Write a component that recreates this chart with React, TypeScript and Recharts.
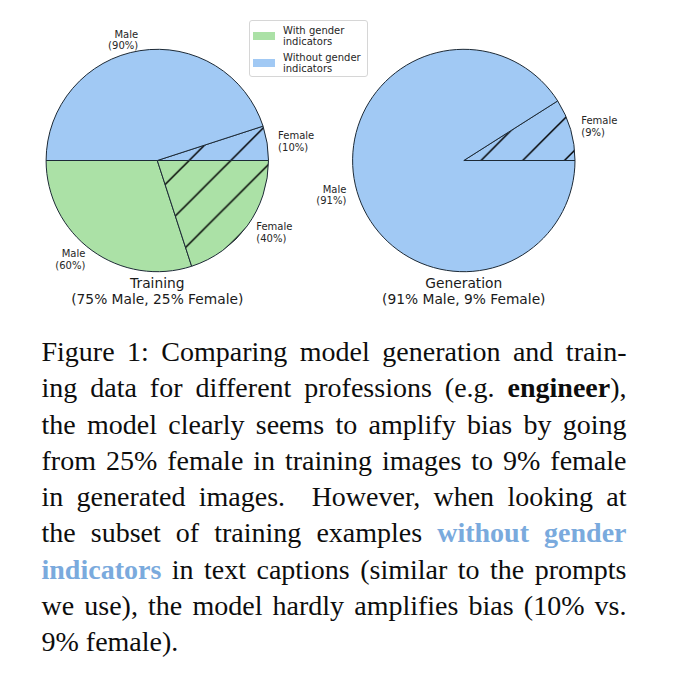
import React from "react";
import { PieChart, Pie, Cell } from "recharts";

// Training images split by caption type; within each group, % female / male
const trainingGroups = ["Without gender indicators", "With gender indicators"];
const trainingGroupShares = [50, 50];
const trainingFemalePct = [10, 40];
const trainingMalePct = [90, 60];

// Generated images
const generationGenders = ["Female", "Male"];
const generationPct = [9, 91];

const chartTitles = ["Training", "Generation"];
const chartSubtitles = ["(75% Male, 25% Female)", "(91% Male, 9% Female)"];

const BLUE = "#a1c9f4";
const GREEN = "#abe1a6";
const EDGE = "#1d2a36";
const R = 111.2;
const CY = 160.5;
const CX_TRAIN = 157.3;
const CX_GEN = 463.8;

const groupColor = (g: string) => (g.startsWith("Without") ? BLUE : GREEN);

// counterclockwise from 3 o'clock: without/female, without/male, with/male, with/female
const trainingData = [
  { group: trainingGroups[0], gender: "Female", pct: trainingFemalePct[0], value: (trainingGroupShares[0] * trainingFemalePct[0]) / 100 },
  { group: trainingGroups[0], gender: "Male", pct: trainingMalePct[0], value: (trainingGroupShares[0] * trainingMalePct[0]) / 100 },
  { group: trainingGroups[1], gender: "Male", pct: trainingMalePct[1], value: (trainingGroupShares[1] * trainingMalePct[1]) / 100 },
  { group: trainingGroups[1], gender: "Female", pct: trainingFemalePct[1], value: (trainingGroupShares[1] * trainingFemalePct[1]) / 100 },
];

const generationData = generationGenders.map((g, i) => ({
  group: trainingGroups[0],
  gender: g,
  pct: generationPct[i],
  value: generationPct[i],
}));

const RAD = Math.PI / 180;

const makeLabel = (data: typeof trainingData) => (props: any) => {
  const { cx, cy, midAngle, outerRadius, index } = props;
  const d = data[index];
  const r = outerRadius * 1.1;
  const x = cx + r * Math.cos(midAngle * RAD);
  const y = cy - r * Math.sin(midAngle * RAD);
  const anchor = x > cx ? "start" : "end";
  return (
    <text
      x={x}
      y={y}
      textAnchor={anchor}
      fontSize={10}
      fontFamily="DejaVu Sans"
      fill="#262626"
    >
      <tspan x={x} y={y - 5.6} dominantBaseline="central">
        {d.gender}
      </tspan>
      <tspan x={x} y={y + 6.1} dominantBaseline="central">
        ({d.pct}%)
      </tspan>
    </text>
  );
};

const fillFor = (d: { group: string; gender: string }) => {
  const base = groupColor(d.group) === BLUE ? "blue" : "green";
  return d.gender === "Female" ? `url(#hatch-${base})` : groupColor(d.group);
};

const HATCH = 41.7;

function HatchPattern({ id, color }: { id: string; color: string }) {
  return (
    <pattern
      id={id}
      patternUnits="userSpaceOnUse"
      width={HATCH}
      height={HATCH}
      patternTransform="translate(16,0)"
    >
      <rect width={HATCH} height={HATCH} fill={color} />
      <line x1={0} y1={HATCH} x2={HATCH} y2={0} stroke="#000" strokeWidth={1.5} />
      <line x1={-2} y1={2} x2={2} y2={-2} stroke="#000" strokeWidth={1.5} />
      <line x1={HATCH - 2} y1={HATCH + 2} x2={HATCH + 2} y2={HATCH - 2} stroke="#000" strokeWidth={1.5} />
    </pattern>
  );
}

const legendItems = [
  { label: ["With gender", "indicators"], color: GREEN },
  { label: ["Without gender", "indicators"], color: BLUE },
];

const captionStyle: React.CSSProperties = {
  position: "absolute",
  left: 41.5,
  top: 334,
  width: 585,
  fontFamily: "'Liberation Serif', serif",
  fontSize: 28,
  lineHeight: "36.3px",
  color: "#0d0d0d",
};

const justified: React.CSSProperties = {
  textAlign: "justify",
  textAlignLast: "justify",
  whiteSpace: "nowrap",
};

const blueBold: React.CSSProperties = { color: "#7aaadd", fontWeight: "bold" };

export default function App() {
  return (
    <div style={{ position: "absolute", left: 0, top: 0, width: 675, height: 680, background: "#fff" }}>
      <PieChart width={675} height={320} margin={{ top: 0, right: 0, bottom: 0, left: 0 }}>
        <defs>
          <HatchPattern id="hatch-blue" color={BLUE} />
          <HatchPattern id="hatch-green" color={GREEN} />
        </defs>
        <Pie
          data={trainingData}
          dataKey="value"
          cx={CX_TRAIN}
          cy={CY}
          outerRadius={R}
          startAngle={0}
          endAngle={360}
          label={makeLabel(trainingData)}
          labelLine={false}
          isAnimationActive={false}
        >
          {trainingData.map((d, i) => (
            <Cell key={i} fill={fillFor(d)} stroke={EDGE} strokeWidth={1} />
          ))}
        </Pie>
        <Pie
          data={generationData}
          dataKey="value"
          cx={CX_GEN}
          cy={CY}
          outerRadius={R}
          startAngle={0}
          endAngle={360}
          label={makeLabel(generationData)}
          labelLine={false}
          isAnimationActive={false}
        >
          {generationData.map((d, i) => (
            <Cell key={i} fill={fillFor(d)} stroke={EDGE} strokeWidth={1} />
          ))}
        </Pie>
      </PieChart>

      {[CX_TRAIN, CX_GEN].map((cx, i) => (
        <div
          key={i}
          style={{
            position: "absolute",
            left: cx - 125,
            top: 275.2,
            width: 250,
            textAlign: "center",
            fontFamily: "'DejaVu Sans', sans-serif",
            fontSize: 13.8,
            lineHeight: "16px",
            color: "#1a1a1a",
          }}
        >
          <div>{chartTitles[i]}</div>
          <div>{chartSubtitles[i]}</div>
        </div>
      ))}

      <div
        style={{
          position: "absolute",
          left: 249,
          top: 20,
          width: 119,
          height: 57,
          boxSizing: "border-box",
          border: "1px solid #d6d6d6",
          borderRadius: 3,
          background: "#fff",
          fontFamily: "'DejaVu Sans', sans-serif",
          fontSize: 10,
          color: "#262626",
        }}
      >
        {legendItems.map((it, i) => (
          <React.Fragment key={i}>
            <div
              style={{
                position: "absolute",
                left: 3,
                top: i === 0 ? 11 : 38,
                width: 22,
                height: 8,
                background: it.color,
              }}
            />
            <div
              style={{
                position: "absolute",
                left: 33,
                top: i === 0 ? 3.5 : 30.5,
                lineHeight: "11.5px",
                whiteSpace: "nowrap",
              }}
            >
              <div>{it.label[0]}</div>
              <div>{it.label[1]}</div>
            </div>
          </React.Fragment>
        ))}
      </div>

      <div style={captionStyle}>
        <div style={justified}>Figure 1: Comparing model generation and train-</div>
        <div style={justified}>
          ing data for different professions (e.g. <b>engineer</b>),
        </div>
        <div style={justified}>the model clearly seems to amplify bias by going</div>
        <div style={justified}>from 25% female in training images to 9% female</div>
        <div style={justified}>in generated images.&nbsp; However, when looking at</div>
        <div style={justified}>
          the subset of training examples <span style={blueBold}>without gender</span>
        </div>
        <div style={justified}>
          <span style={blueBold}>indicators</span> in text captions (similar to the prompts
        </div>
        <div style={justified}>we use), the model hardly amplifies bias (10% vs.</div>
        <div style={{ whiteSpace: "nowrap" }}>9% female).</div>
      </div>
    </div>
  );
}
